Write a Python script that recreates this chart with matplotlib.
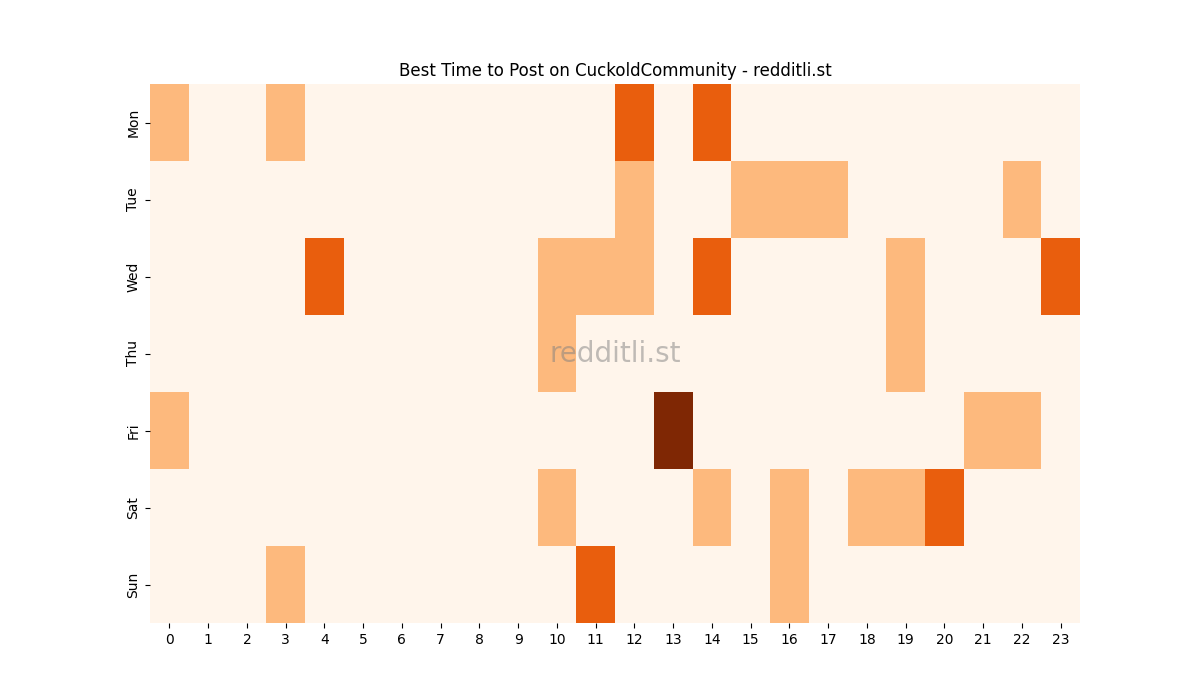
import numpy as np
import pandas as pd
import matplotlib
matplotlib.use("Agg")
import matplotlib.pyplot as plt
import seaborn as sns

# --- data ---
days = ["Mon", "Tue", "Wed", "Thu", "Fri", "Sat", "Sun"]
hours = list(range(24))

# (hour, level) pairs per day, everything else is 0
mon = {0: 1, 3: 1, 12: 2, 14: 2}
tue = {12: 1, 15: 1, 16: 1, 17: 1, 22: 1}
wed = {4: 2, 10: 1, 11: 1, 12: 1, 14: 2, 19: 1, 23: 2}
thu = {10: 1, 19: 1}
fri = {0: 1, 13: 3, 21: 1, 22: 1}
sat = {10: 1, 14: 1, 16: 1, 18: 1, 19: 1, 20: 2}
sun = {3: 1, 11: 2, 16: 1}

rows = [mon, tue, wed, thu, fri, sat, sun]
grid = np.zeros((len(days), len(hours)))
for i, r in enumerate(rows):
    for h, v in r.items():
        grid[i, h] = v

df = pd.DataFrame(grid, index=days, columns=hours)

fig, ax = plt.subplots(figsize=(12, 7), dpi=100)
sns.heatmap(df, cmap="Oranges", cbar=False, ax=ax, vmin=0, vmax=3)
ax.set_title("Best Time to Post on CuckoldCommunity - redditli.st")
ax.set_xticklabels(hours, rotation=0)
ax.set_yticklabels(days, rotation=90, va="center")
ax.text(0.5, 0.5, "redditli.st", transform=ax.transAxes, ha="center", va="center",
        fontsize=20, color="gray", alpha=0.5)

fig.savefig("out.png")
